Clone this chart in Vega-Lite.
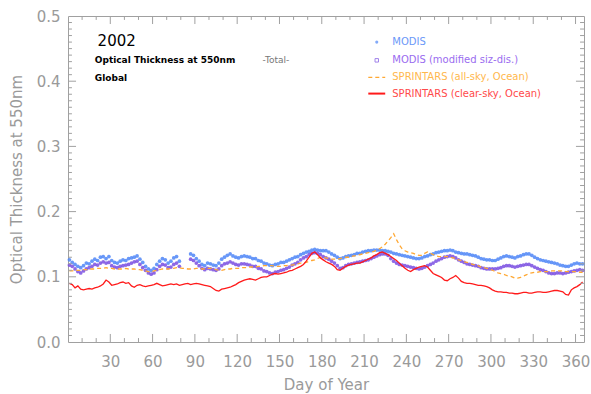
{
  "$schema": "https://vega.github.io/schema/vega-lite/v6.json",
  "width": 516,
  "height": 326,
  "autosize": {"type": "none"},
  "padding": {"left": 68, "top": 16, "right": 7, "bottom": 52},
  "background": "white",
  "config": {
    "view": {"stroke": "#a0a0a0", "strokeWidth": 1},
    "axis": {
      "grid": false,
      "domain": false,
      "ticks": false,
      "labelColor": "#9a9a9a",
      "titleColor": "#9a9a9a",
      "labelFont": "DejaVu Sans",
      "titleFont": "DejaVu Sans",
      "labelFontSize": 15,
      "titleFontSize": 15,
      "titleFontWeight": "normal",
      "labelFlush": false,
      "labelOverlap": false
    },
    "rule": {"color": "#a0a0a0", "strokeWidth": 1}
  },
  "datasets": {
    "xmaj": [{"v":30},{"v":60},{"v":90},{"v":120},{"v":150},{"v":180},{"v":210},{"v":240},{"v":270},{"v":300},{"v":330},{"v":360}],
    "xmin": [{"v":10},{"v":20},{"v":40},{"v":50},{"v":70},{"v":80},{"v":100},{"v":110},{"v":130},{"v":140},{"v":160},{"v":170},{"v":190},{"v":200},{"v":220},{"v":230},{"v":250},{"v":260},{"v":280},{"v":290},{"v":310},{"v":320},{"v":340},{"v":350}],
    "ymaj": [{"v":0.1},{"v":0.2},{"v":0.3},{"v":0.4}],
    "ymin": [{"v":0.01},{"v":0.02},{"v":0.03},{"v":0.04},{"v":0.05},{"v":0.06},{"v":0.07},{"v":0.08},{"v":0.09},{"v":0.11},{"v":0.12},{"v":0.13},{"v":0.14},{"v":0.15},{"v":0.16},{"v":0.17},{"v":0.18},{"v":0.19},{"v":0.21},{"v":0.22},{"v":0.23},{"v":0.24},{"v":0.25},{"v":0.26},{"v":0.27},{"v":0.28},{"v":0.29},{"v":0.31},{"v":0.32},{"v":0.33},{"v":0.34},{"v":0.35},{"v":0.36},{"v":0.37},{"v":0.38},{"v":0.39},{"v":0.41},{"v":0.42},{"v":0.43},{"v":0.44},{"v":0.45},{"v":0.46},{"v":0.47},{"v":0.48},{"v":0.49}]
  },
  "data": {
    "values": [
      {"d":1,"m":0.126,"p":0.118,"a":0.109,"c":0.090},
      {"d":3,"m":0.122,"p":0.116,"a":0.109,"c":0.088},
      {"d":5,"m":0.119,"p":0.112,"a":0.110,"c":0.083},
      {"d":7,"m":0.116,"p":0.108,"a":0.110,"c":0.086},
      {"d":9,"m":0.114,"p":0.106,"a":0.110,"c":0.081},
      {"d":11,"m":0.117,"p":0.109,"a":0.111,"c":0.080},
      {"d":13,"m":0.121,"p":0.112,"a":0.111,"c":0.081},
      {"d":15,"m":0.120,"p":0.114,"a":0.112,"c":0.082},
      {"d":17,"m":0.124,"p":0.116,"a":0.112,"c":0.081},
      {"d":19,"m":0.127,"p":0.119,"a":0.112,"c":0.083},
      {"d":21,"m":0.125,"p":0.118,"a":0.113,"c":0.084},
      {"d":23,"m":0.130,"p":0.121,"a":0.113,"c":0.086},
      {"d":25,"m":0.131,"p":0.123,"a":0.113,"c":0.089},
      {"d":27,"m":0.128,"p":0.121,"a":0.114,"c":0.095},
      {"d":29,"m":0.131,"p":0.122,"a":0.113,"c":0.092},
      {"d":31,"m":0.125,"p":0.117,"a":0.113,"c":0.087},
      {"d":33,"m":0.122,"p":0.115,"a":0.112,"c":0.088},
      {"d":35,"m":0.121,"p":0.114,"a":0.112,"c":0.089},
      {"d":37,"m":0.124,"p":0.116,"a":0.112,"c":0.091},
      {"d":39,"m":0.126,"p":0.117,"a":0.112,"c":0.092},
      {"d":41,"m":0.125,"p":0.118,"a":0.113,"c":0.090},
      {"d":43,"m":0.128,"p":0.119,"a":0.112,"c":0.091},
      {"d":45,"m":0.129,"p":0.121,"a":0.112,"c":0.086},
      {"d":47,"m":0.130,"p":0.123,"a":0.112,"c":0.084},
      {"d":49,"m":0.132,"p":0.124,"a":0.111,"c":0.087},
      {"d":51,"m":0.127,"p":0.119,"a":0.111,"c":0.088},
      {"d":53,"m":0.122,"p":0.114,"a":0.110,"c":0.086},
      {"d":55,"m":0.116,"p":0.110,"a":0.109,"c":0.085},
      {"d":57,"m":0.112,"p":0.106,"a":0.108,"c":0.086},
      {"d":59,"m":0.110,"p":0.104,"a":0.108,"c":0.087},
      {"d":61,"m":0.113,"p":0.106,"a":0.109,"c":0.088},
      {"d":63,"m":0.119,"p":0.111,"a":0.110,"c":0.090},
      {"d":65,"m":0.124,"p":0.116,"a":0.111,"c":0.088},
      {"d":67,"m":0.128,"p":0.119,"a":0.112,"c":0.086},
      {"d":69,"m":0.126,"p":0.118,"a":0.112,"c":0.087},
      {"d":71,"m":0.121,"p":0.114,"a":0.112,"c":0.088},
      {"d":73,"m":0.124,"p":0.115,"a":0.113,"c":0.089},
      {"d":75,"m":0.129,"p":0.119,"a":0.113,"c":0.088},
      {"d":77,"m":0.131,"p":0.121,"a":0.114,"c":0.089},
      {"d":79,"m":0.124,"p":0.116,"a":0.114,"c":0.087},
      {"d":81,"m":null,"p":null,"a":0.113,"c":0.088},
      {"d":83,"m":null,"p":null,"a":0.113,"c":0.089},
      {"d":85,"m":null,"p":null,"a":0.112,"c":0.090},
      {"d":87,"m":0.135,"p":0.127,"a":0.112,"c":0.088},
      {"d":89,"m":0.133,"p":0.125,"a":0.112,"c":0.089},
      {"d":91,"m":0.128,"p":0.121,"a":0.113,"c":0.090},
      {"d":93,"m":0.124,"p":0.117,"a":0.113,"c":0.089},
      {"d":95,"m":0.119,"p":0.113,"a":0.112,"c":0.088},
      {"d":97,"m":0.117,"p":0.111,"a":0.112,"c":0.087},
      {"d":99,"m":0.121,"p":0.113,"a":0.113,"c":0.086},
      {"d":101,"m":0.120,"p":0.112,"a":0.113,"c":0.085},
      {"d":103,"m":0.118,"p":0.111,"a":0.112,"c":0.082},
      {"d":105,"m":0.117,"p":0.110,"a":0.111,"c":0.079},
      {"d":107,"m":0.121,"p":0.112,"a":0.110,"c":0.078},
      {"d":109,"m":0.127,"p":0.117,"a":0.110,"c":0.081},
      {"d":111,"m":0.130,"p":0.120,"a":0.111,"c":0.082},
      {"d":113,"m":0.133,"p":0.121,"a":0.112,"c":0.083},
      {"d":115,"m":0.135,"p":0.123,"a":0.112,"c":0.084},
      {"d":117,"m":0.132,"p":0.121,"a":0.113,"c":0.086},
      {"d":119,"m":0.130,"p":0.119,"a":0.113,"c":0.088},
      {"d":121,"m":0.129,"p":0.118,"a":0.113,"c":0.091},
      {"d":123,"m":0.131,"p":0.120,"a":0.114,"c":0.093},
      {"d":125,"m":0.132,"p":0.120,"a":0.114,"c":0.095},
      {"d":127,"m":0.131,"p":0.119,"a":0.114,"c":0.096},
      {"d":129,"m":0.130,"p":0.118,"a":0.115,"c":0.097},
      {"d":131,"m":0.128,"p":0.116,"a":0.115,"c":0.096},
      {"d":133,"m":0.128,"p":0.116,"a":0.115,"c":0.095},
      {"d":135,"m":0.125,"p":0.113,"a":0.116,"c":0.097},
      {"d":137,"m":0.124,"p":0.112,"a":0.116,"c":0.099},
      {"d":139,"m":0.121,"p":0.109,"a":0.117,"c":0.100},
      {"d":141,"m":0.120,"p":0.108,"a":0.117,"c":0.100},
      {"d":143,"m":0.118,"p":0.106,"a":0.117,"c":0.102},
      {"d":145,"m":0.117,"p":0.105,"a":0.117,"c":0.104},
      {"d":147,"m":0.119,"p":0.107,"a":0.116,"c":0.105},
      {"d":149,"m":0.120,"p":0.108,"a":0.116,"c":0.104},
      {"d":151,"m":0.122,"p":0.110,"a":0.116,"c":0.105},
      {"d":153,"m":0.122,"p":0.111,"a":0.117,"c":0.106},
      {"d":155,"m":0.124,"p":0.113,"a":0.117,"c":0.107},
      {"d":157,"m":0.126,"p":0.115,"a":0.118,"c":0.109},
      {"d":159,"m":0.128,"p":0.118,"a":0.118,"c":0.110},
      {"d":161,"m":0.130,"p":0.120,"a":0.119,"c":0.112},
      {"d":163,"m":0.131,"p":0.122,"a":0.120,"c":0.114},
      {"d":165,"m":0.134,"p":0.126,"a":0.121,"c":0.116},
      {"d":167,"m":0.136,"p":0.129,"a":0.121,"c":0.119},
      {"d":169,"m":0.138,"p":0.131,"a":0.122,"c":0.124},
      {"d":171,"m":0.139,"p":0.134,"a":0.124,"c":0.130},
      {"d":173,"m":0.141,"p":0.136,"a":0.125,"c":0.136},
      {"d":175,"m":0.142,"p":0.137,"a":0.126,"c":0.138},
      {"d":177,"m":0.141,"p":0.136,"a":0.128,"c":0.134},
      {"d":179,"m":0.140,"p":0.134,"a":0.130,"c":0.129},
      {"d":181,"m":0.140,"p":0.131,"a":0.130,"c":0.126},
      {"d":183,"m":0.140,"p":0.129,"a":0.129,"c":0.123},
      {"d":185,"m":0.138,"p":0.127,"a":0.128,"c":0.121},
      {"d":187,"m":0.135,"p":0.124,"a":0.127,"c":0.119},
      {"d":189,"m":0.133,"p":0.121,"a":0.127,"c":0.116},
      {"d":191,"m":0.130,"p":0.117,"a":0.127,"c":0.111},
      {"d":193,"m":0.128,"p":0.113,"a":0.128,"c":0.110},
      {"d":195,"m":0.129,"p":0.114,"a":0.129,"c":0.113},
      {"d":197,"m":0.131,"p":0.117,"a":0.130,"c":0.116},
      {"d":199,"m":0.132,"p":0.119,"a":0.130,"c":0.118},
      {"d":201,"m":0.133,"p":0.120,"a":0.131,"c":0.119},
      {"d":203,"m":0.134,"p":0.121,"a":0.132,"c":0.120},
      {"d":205,"m":0.136,"p":0.122,"a":0.133,"c":0.121},
      {"d":207,"m":0.136,"p":0.123,"a":0.134,"c":0.121},
      {"d":209,"m":0.138,"p":0.124,"a":0.135,"c":0.123},
      {"d":211,"m":0.139,"p":0.125,"a":0.136,"c":0.125},
      {"d":213,"m":0.140,"p":0.126,"a":0.137,"c":0.127},
      {"d":215,"m":0.140,"p":0.128,"a":0.138,"c":0.129},
      {"d":217,"m":0.141,"p":0.130,"a":0.139,"c":0.132},
      {"d":219,"m":0.141,"p":0.132,"a":0.141,"c":0.134},
      {"d":221,"m":0.141,"p":0.134,"a":0.143,"c":0.137},
      {"d":223,"m":0.140,"p":0.135,"a":0.146,"c":0.138},
      {"d":225,"m":0.140,"p":0.135,"a":0.150,"c":0.136},
      {"d":227,"m":0.139,"p":0.133,"a":0.155,"c":0.134},
      {"d":229,"m":0.138,"p":0.128,"a":0.160,"c":0.131},
      {"d":231,"m":0.136,"p":0.124,"a":0.166,"c":0.128},
      {"d":233,"m":0.135,"p":0.121,"a":0.157,"c":0.125},
      {"d":235,"m":0.134,"p":0.119,"a":0.149,"c":0.121},
      {"d":237,"m":0.133,"p":0.118,"a":0.143,"c":0.117},
      {"d":239,"m":0.132,"p":0.117,"a":0.140,"c":0.113},
      {"d":241,"m":0.131,"p":0.116,"a":0.138,"c":0.110},
      {"d":243,"m":0.130,"p":0.115,"a":0.137,"c":0.108},
      {"d":245,"m":0.129,"p":0.114,"a":0.136,"c":0.111},
      {"d":247,"m":0.128,"p":0.113,"a":0.134,"c":0.113},
      {"d":249,"m":0.128,"p":0.112,"a":0.133,"c":0.115},
      {"d":251,"m":0.129,"p":0.113,"a":0.133,"c":0.116},
      {"d":253,"m":0.131,"p":0.115,"a":0.136,"c":0.117},
      {"d":255,"m":0.132,"p":0.117,"a":0.138,"c":0.115},
      {"d":257,"m":0.134,"p":0.119,"a":0.136,"c":0.110},
      {"d":259,"m":0.135,"p":0.121,"a":0.134,"c":0.105},
      {"d":261,"m":0.137,"p":0.124,"a":0.132,"c":0.103},
      {"d":263,"m":0.138,"p":0.126,"a":0.131,"c":0.101},
      {"d":265,"m":0.139,"p":0.128,"a":0.131,"c":0.099},
      {"d":267,"m":0.140,"p":0.130,"a":0.131,"c":0.095},
      {"d":269,"m":0.140,"p":0.131,"a":0.131,"c":0.094},
      {"d":271,"m":0.141,"p":0.132,"a":0.130,"c":0.097},
      {"d":273,"m":0.140,"p":0.131,"a":0.129,"c":0.099},
      {"d":275,"m":0.138,"p":0.129,"a":0.128,"c":0.102},
      {"d":277,"m":0.137,"p":0.126,"a":0.126,"c":0.098},
      {"d":279,"m":0.136,"p":0.124,"a":0.125,"c":0.093},
      {"d":281,"m":0.135,"p":0.122,"a":0.123,"c":0.091},
      {"d":283,"m":0.135,"p":0.120,"a":0.122,"c":0.090},
      {"d":285,"m":0.134,"p":0.119,"a":0.121,"c":0.090},
      {"d":287,"m":0.133,"p":0.118,"a":0.119,"c":0.089},
      {"d":289,"m":0.132,"p":0.117,"a":0.118,"c":0.088},
      {"d":291,"m":0.130,"p":0.116,"a":0.117,"c":0.087},
      {"d":293,"m":0.128,"p":0.114,"a":0.115,"c":0.087},
      {"d":295,"m":0.127,"p":0.113,"a":0.114,"c":0.086},
      {"d":297,"m":0.126,"p":0.112,"a":0.113,"c":0.085},
      {"d":299,"m":0.126,"p":0.112,"a":0.112,"c":0.083},
      {"d":301,"m":0.125,"p":0.112,"a":0.110,"c":0.080},
      {"d":303,"m":0.125,"p":0.112,"a":0.108,"c":0.078},
      {"d":305,"m":0.127,"p":0.113,"a":0.106,"c":0.077},
      {"d":307,"m":0.129,"p":0.114,"a":0.105,"c":0.077},
      {"d":309,"m":0.131,"p":0.116,"a":0.104,"c":0.076},
      {"d":311,"m":0.132,"p":0.117,"a":0.102,"c":0.076},
      {"d":313,"m":0.131,"p":0.117,"a":0.101,"c":0.075},
      {"d":315,"m":0.130,"p":0.116,"a":0.100,"c":0.075},
      {"d":317,"m":0.129,"p":0.115,"a":0.098,"c":0.074},
      {"d":319,"m":0.131,"p":0.116,"a":0.098,"c":0.074},
      {"d":321,"m":0.132,"p":0.117,"a":0.099,"c":0.075},
      {"d":323,"m":0.134,"p":0.118,"a":0.101,"c":0.076},
      {"d":325,"m":0.135,"p":0.119,"a":0.103,"c":0.076},
      {"d":327,"m":0.135,"p":0.119,"a":0.105,"c":0.075},
      {"d":329,"m":0.133,"p":0.117,"a":0.106,"c":0.075},
      {"d":331,"m":0.130,"p":0.115,"a":0.107,"c":0.076},
      {"d":333,"m":0.128,"p":0.113,"a":0.107,"c":0.077},
      {"d":335,"m":0.126,"p":0.111,"a":0.108,"c":0.077},
      {"d":337,"m":0.125,"p":0.110,"a":0.108,"c":0.076},
      {"d":339,"m":0.124,"p":0.108,"a":0.108,"c":0.076},
      {"d":341,"m":0.123,"p":0.106,"a":0.108,"c":0.077},
      {"d":343,"m":0.122,"p":0.105,"a":0.109,"c":0.078},
      {"d":345,"m":0.121,"p":0.105,"a":0.109,"c":0.079},
      {"d":347,"m":0.120,"p":0.106,"a":0.109,"c":0.079},
      {"d":349,"m":0.118,"p":0.106,"a":0.109,"c":0.078},
      {"d":351,"m":0.117,"p":0.105,"a":0.109,"c":0.077},
      {"d":353,"m":0.116,"p":0.106,"a":0.108,"c":0.073},
      {"d":355,"m":0.116,"p":0.107,"a":0.108,"c":0.072},
      {"d":357,"m":0.118,"p":0.108,"a":0.108,"c":0.080},
      {"d":359,"m":0.120,"p":0.109,"a":0.108,"c":0.083},
      {"d":361,"m":0.121,"p":0.110,"a":0.108,"c":0.085},
      {"d":363,"m":0.120,"p":0.111,"a":0.107,"c":0.088},
      {"d":365,"m":0.120,"p":0.110,"a":0.107,"c":0.092}
    ]
  },
  "layer": [
    {
      "mark": {"type": "point", "filled": true, "size": 14, "opacity": 0.85, "color": "#4f86f7"},
      "encoding": {
        "x": {
          "field": "d", "type": "quantitative",
          "scale": {"domain": [0, 366], "nice": false, "zero": false},
          "axis": {
            "orient": "bottom",
            "title": "Day of Year",
            "values": [30,60,90,120,150,180,210,240,270,300,330,360],
            "labelPadding": 12,
            "titlePadding": 8
          }
        },
        "y": {
          "field": "m", "type": "quantitative",
          "scale": {"domain": [0, 0.5], "nice": false},
          "axis": {
            "orient": "left",
            "title": "Optical Thickness at 550nm",
            "values": [0, 0.1, 0.2, 0.3, 0.4, 0.5],
            "format": ".1f",
            "labelPadding": 8,
            "titlePadding": 12
          }
        }
      }
    },
    {
      "mark": {"type": "point", "filled": true, "size": 14, "opacity": 0.85, "color": "#7a4fe2"},
      "encoding": {
        "x": {"field": "d", "type": "quantitative", "axis": null},
        "y": {"field": "p", "type": "quantitative", "axis": null}
      }
    },
    {
      "mark": {"type": "line", "strokeWidth": 1.3, "strokeDash": [4, 3], "color": "#ffa833"},
      "encoding": {
        "x": {"field": "d", "type": "quantitative", "axis": null},
        "y": {"field": "a", "type": "quantitative", "axis": null}
      }
    },
    {
      "mark": {"type": "line", "strokeWidth": 1.3, "color": "#ff1a1a"},
      "encoding": {
        "x": {"field": "d", "type": "quantitative", "axis": null},
        "y": {"field": "c", "type": "quantitative", "axis": null}
      }
    },
    {
      "data": {"name": "xmaj"},
      "mark": {"type": "rule"},
      "encoding": {
        "x": {"field": "v", "type": "quantitative", "axis": null},
        "y": {"datum": 0, "type": "quantitative", "axis": null},
        "y2": {"datum": 0.0123}
      }
    },
    {
      "data": {"name": "xmaj"},
      "mark": {"type": "rule"},
      "encoding": {
        "x": {"field": "v", "type": "quantitative", "axis": null},
        "y": {"datum": 0.5, "type": "quantitative", "axis": null},
        "y2": {"datum": 0.4877}
      }
    },
    {
      "data": {"name": "xmin"},
      "mark": {"type": "rule"},
      "encoding": {
        "x": {"field": "v", "type": "quantitative", "axis": null},
        "y": {"datum": 0, "type": "quantitative", "axis": null},
        "y2": {"datum": 0.006}
      }
    },
    {
      "data": {"name": "xmin"},
      "mark": {"type": "rule"},
      "encoding": {
        "x": {"field": "v", "type": "quantitative", "axis": null},
        "y": {"datum": 0.5, "type": "quantitative", "axis": null},
        "y2": {"datum": 0.494}
      }
    },
    {
      "data": {"name": "ymaj"},
      "mark": {"type": "rule"},
      "encoding": {
        "y": {"field": "v", "type": "quantitative", "axis": null},
        "x": {"datum": 0, "type": "quantitative", "axis": null},
        "x2": {"datum": 5.7}
      }
    },
    {
      "data": {"name": "ymaj"},
      "mark": {"type": "rule"},
      "encoding": {
        "y": {"field": "v", "type": "quantitative", "axis": null},
        "x": {"datum": 366, "type": "quantitative", "axis": null},
        "x2": {"datum": 360.3}
      }
    },
    {
      "data": {"name": "ymin"},
      "mark": {"type": "rule"},
      "encoding": {
        "y": {"field": "v", "type": "quantitative", "axis": null},
        "x": {"datum": 0, "type": "quantitative", "axis": null},
        "x2": {"datum": 2.8}
      }
    },
    {
      "data": {"name": "ymin"},
      "mark": {"type": "rule"},
      "encoding": {
        "y": {"field": "v", "type": "quantitative", "axis": null},
        "x": {"datum": 366, "type": "quantitative", "axis": null},
        "x2": {"datum": 363.2}
      }
    },
    {
      "data": {"values": [{"t": "2002"}]},
      "mark": {"type": "text", "align": "left", "baseline": "alphabetic", "font": "DejaVu Sans", "fontSize": 15, "color": "#000000"},
      "encoding": {
        "x": {"datum": 21, "type": "quantitative", "axis": null},
        "y": {"datum": 0.454, "type": "quantitative", "axis": null},
        "text": {"field": "t"}
      }
    },
    {
      "data": {"values": [{"t": "Optical Thickness at 550nm"}]},
      "mark": {"type": "text", "align": "left", "baseline": "alphabetic", "font": "DejaVu Sans", "fontSize": 9, "fontWeight": "bold", "color": "#000000"},
      "encoding": {
        "x": {"datum": 19, "type": "quantitative", "axis": null},
        "y": {"datum": 0.428, "type": "quantitative", "axis": null},
        "text": {"field": "t"}
      }
    },
    {
      "data": {"values": [{"t": "-Total-"}]},
      "mark": {"type": "text", "align": "left", "baseline": "alphabetic", "font": "DejaVu Sans", "fontSize": 9, "color": "#777777"},
      "encoding": {
        "x": {"datum": 138, "type": "quantitative", "axis": null},
        "y": {"datum": 0.428, "type": "quantitative", "axis": null},
        "text": {"field": "t"}
      }
    },
    {
      "data": {"values": [{"t": "Global"}]},
      "mark": {"type": "text", "align": "left", "baseline": "alphabetic", "font": "DejaVu Sans", "fontSize": 9, "fontWeight": "bold", "color": "#000000"},
      "encoding": {
        "x": {"datum": 19, "type": "quantitative", "axis": null},
        "y": {"datum": 0.4, "type": "quantitative", "axis": null},
        "text": {"field": "t"}
      }
    },
    {
      "data": {"values": [{"t": "MODIS"}]},
      "mark": {"type": "text", "align": "left", "baseline": "middle", "font": "DejaVu Sans", "fontSize": 10, "color": "#6b98f8"},
      "encoding": {
        "x": {"datum": 230, "type": "quantitative", "axis": null},
        "y": {"datum": 0.46, "type": "quantitative", "axis": null},
        "text": {"field": "t"}
      }
    },
    {
      "data": {"values": [{"t": "MODIS (modified siz-dis.)"}]},
      "mark": {"type": "text", "align": "left", "baseline": "middle", "font": "DejaVu Sans", "fontSize": 10, "color": "#9a6cf0"},
      "encoding": {
        "x": {"datum": 230, "type": "quantitative", "axis": null},
        "y": {"datum": 0.432, "type": "quantitative", "axis": null},
        "text": {"field": "t"}
      }
    },
    {
      "data": {"values": [{"t": "SPRINTARS (all-sky, Ocean)"}]},
      "mark": {"type": "text", "align": "left", "baseline": "middle", "font": "DejaVu Sans", "fontSize": 10, "color": "#ffb84d"},
      "encoding": {
        "x": {"datum": 230, "type": "quantitative", "axis": null},
        "y": {"datum": 0.406, "type": "quantitative", "axis": null},
        "text": {"field": "t"}
      }
    },
    {
      "data": {"values": [{"t": "SPRINTARS (clear-sky, Ocean)"}]},
      "mark": {"type": "text", "align": "left", "baseline": "middle", "font": "DejaVu Sans", "fontSize": 10, "color": "#ff4a4a"},
      "encoding": {
        "x": {"datum": 230, "type": "quantitative", "axis": null},
        "y": {"datum": 0.381, "type": "quantitative", "axis": null},
        "text": {"field": "t"}
      }
    },
    {
      "data": {"values": [{"t": "MODIS"}]},
      "mark": {"type": "point", "filled": true, "size": 10, "color": "#4f86f7"},
      "encoding": {
        "x": {"datum": 219, "type": "quantitative", "axis": null},
        "y": {"datum": 0.46, "type": "quantitative", "axis": null}
      }
    },
    {
      "data": {"values": [{"t": "MODIS (modified siz-dis.)"}]},
      "mark": {"type": "point", "shape": "square", "filled": false, "size": 12, "strokeWidth": 1, "color": "#7a4fe2"},
      "encoding": {
        "x": {"datum": 219, "type": "quantitative", "axis": null},
        "y": {"datum": 0.432, "type": "quantitative", "axis": null}
      }
    },
    {
      "data": {"values": [{"t": "SPRINTARS (all-sky, Ocean)"}]},
      "mark": {"type": "rule", "strokeWidth": 1.3, "strokeDash": [4, 3], "color": "#ffa833"},
      "encoding": {
        "x": {"datum": 213, "type": "quantitative", "axis": null},
        "x2": {"datum": 225},
        "y": {"datum": 0.406, "type": "quantitative", "axis": null}
      }
    },
    {
      "data": {"values": [{"t": "SPRINTARS (clear-sky, Ocean)"}]},
      "mark": {"type": "rule", "strokeWidth": 2, "color": "#ff1a1a"},
      "encoding": {
        "x": {"datum": 213, "type": "quantitative", "axis": null},
        "x2": {"datum": 225},
        "y": {"datum": 0.381, "type": "quantitative", "axis": null}
      }
    }
  ],
  "resolve": {"axis": {"x": "independent", "y": "independent"}}
}
